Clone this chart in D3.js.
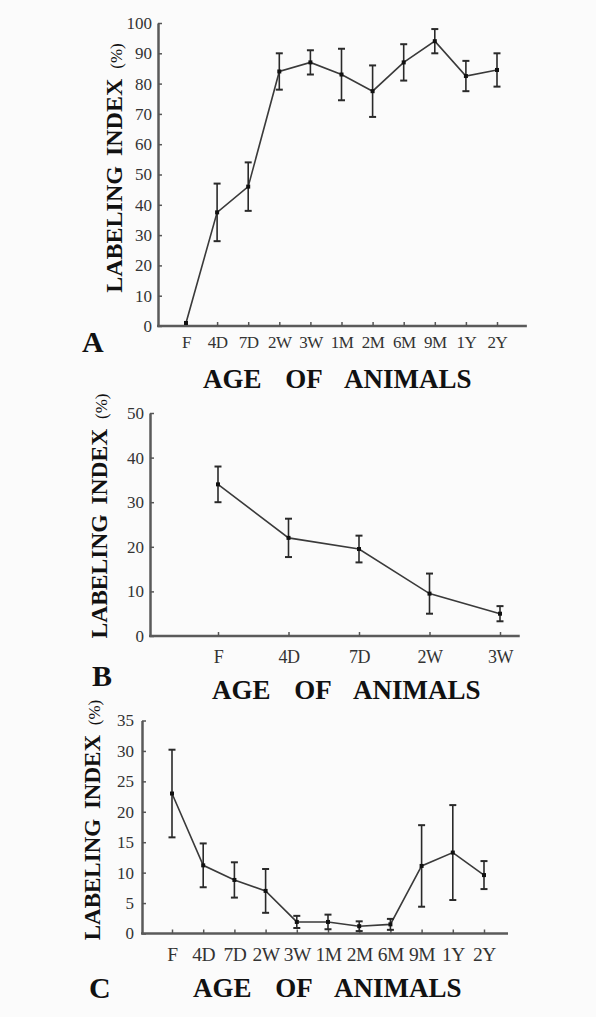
<!DOCTYPE html>
<html>
<head>
<meta charset="utf-8">
<script src="https://cdn.jsdelivr.net/npm/d3@7/dist/d3.min.js"></script>
<style>
  body { margin: 0; background: #fbfbfb; }
  svg { display: block; }
</style>
</head>
<body>
<script>
'use strict';

// age groups along the x axis
const agesLong = ["F", "4D", "7D", "2W", "3W", "1M", "2M", "6M", "9M", "1Y", "2Y"];
const agesShort = ["F", "4D", "7D", "2W", "3W"];

// panel A: labeling index (%) means and error half-widths
const meanA = [1, 37.5, 46, 84, 87, 83, 77.5, 87, 94, 82.5, 84.5];
const errA = [0.5, 9.5, 8, 6, 4, 8.5, 8.5, 6, 4, 5, 5.5];

// panel B
const meanB = [34, 22, 19.5, 9.5, 5];
const errB = [4, 4.3, 3, 4.5, 1.7];

// panel C
const meanC = [23, 11.2, 8.8, 7, 1.9, 1.9, 1.2, 1.5, 11.1, 13.3, 9.6];
const errC = [7.2, 3.6, 2.9, 3.6, 1, 1.2, 0.8, 0.9, 6.7, 7.8, 2.3];

// y tick values for each panel
const ticksA = [0, 10, 20, 30, 40, 50, 60, 70, 80, 90, 100];
const ticksB = [0, 10, 20, 30, 40, 50];
const ticksC = [0, 5, 10, 15, 20, 25, 30, 35];

(function() {

  let svgContainer = ""; // keep SVG reference in global scope
  const serif = "'Liberation Serif', 'Times New Roman', serif";

  window.onload = function() {
    svgContainer = d3.select('body')
      .append('svg')
      .attr('width', 596)
      .attr('height', 1017);

    // layout of each panel (pixels)
    drawPanel({
      cats: agesLong, mean: meanA, err: errA, ticks: ticksA, yMax: 100,
      axisX: 158, yTop: 23, yBottom: 326, first: 186, last: 497, padL: 0.93, padR: 0.96,
      yTickPad: 6, xTickPad: 10, xTickFont: 17,
      letter: "A", letterX: 82, letterY: 352,
      titleX: 203, titleY: 388,
      yTitleX: 122, yTitleY: 168, yTitleFont: 24
    });

    drawPanel({
      cats: agesShort, mean: meanB, err: errB, ticks: ticksB, yMax: 50,
      axisX: 150, yTop: 413, yBottom: 636, first: 218, last: 500, padL: 0.96, padR: 0.28,
      yTickPad: 6, xTickPad: 14, xTickFont: 18,
      letter: "B", letterX: 92, letterY: 686,
      titleX: 212, titleY: 699,
      yTitleX: 107, yTitleY: 516, yTitleFont: 23.5
    });

    drawPanel({
      cats: agesLong, mean: meanC, err: errC, ticks: ticksC, yMax: 35,
      axisX: 142, yTop: 720.5, yBottom: 933.5, first: 172, last: 484, padL: 0.96, padR: 0.77,
      yTickPad: 8, xTickPad: 14, xTickFont: 19.5,
      letter: "C", letterX: 89, letterY: 998,
      titleX: 193, titleY: 997,
      yTitleX: 100, yTitleY: 820, yTitleFont: 23
    });
  }

  // draw one panel: axes, error bars, line, labels
  function drawPanel(p) {
    let xScale = d3.scalePoint()
      .domain(p.cats)
      .range([p.first, p.last]);

    let yScale = d3.scaleLinear()
      .domain([0, p.yMax])
      .range([p.yBottom, p.yTop]);

    let rows = p.cats.map((c, i) => ({ cat: c, mean: p.mean[i], err: p.err[i] }));

    // y axis with small inward ticks
    let yAxis = d3.axisLeft(yScale)
      .tickValues(p.ticks)
      .tickSizeInner(-4)
      .tickSizeOuter(0)
      .tickPadding(p.yTickPad);
    let gy = svgContainer.append('g')
      .attr('transform', 'translate(' + p.axisX + ', 0)')
      .call(yAxis);
    styleAxis(gy, 17);

    // x axis, domain line stretched past the first and last age
    let step = (p.last - p.first) / (p.cats.length - 1);
    let xAxis = d3.axisBottom(xScale)
      .tickSizeInner(-4)
      .tickSizeOuter(0)
      .tickPadding(p.xTickPad);
    let gx = svgContainer.append('g')
      .attr('transform', 'translate(0, ' + p.yBottom + ')')
      .call(xAxis);
    gx.select('.domain')
      .attr('d', 'M' + (p.axisX - 1) + ',0H' + (p.last + step * p.padR));
    styleAxis(gx, p.xTickFont);
    gx.selectAll('text').attr('letter-spacing', '-0.5px');

    // connecting line
    let line = d3.line()
      .x((d) => xScale(d.cat))
      .y((d) => yScale(d.mean));
    svgContainer.append('path')
      .datum(rows)
      .attr('d', line)
      .attr('fill', 'none')
      .attr('stroke', '#3a3a3a')
      .attr('stroke-width', 1.6);

    // error bars
    let bars = svgContainer.append('g')
      .attr('stroke', '#2a2a2a')
      .attr('stroke-width', 1.6);
    bars.selectAll('.bar')
      .data(rows.filter((d) => d.err > 0.6))
      .enter()
      .append('line')
        .attr('x1', (d) => xScale(d.cat))
        .attr('x2', (d) => xScale(d.cat))
        .attr('y1', (d) => yScale(d.mean - d.err))
        .attr('y2', (d) => yScale(d.mean + d.err));
    [1, -1].forEach((s) => {
      bars.selectAll('.cap' + s)
        .data(rows.filter((d) => d.err > 0.6))
        .enter()
        .append('line')
          .attr('x1', (d) => xScale(d.cat) - 3.5)
          .attr('x2', (d) => xScale(d.cat) + 3.5)
          .attr('y1', (d) => yScale(d.mean + s * d.err))
          .attr('y2', (d) => yScale(d.mean + s * d.err))
          .attr('stroke-width', 2);
    });

    // mean markers
    svgContainer.selectAll('.dot' + p.letter)
      .data(rows)
      .enter()
      .append('rect')
        .attr('x', (d) => xScale(d.cat) - 2)
        .attr('y', (d) => yScale(d.mean) - 2)
        .attr('width', 4)
        .attr('height', 4)
        .attr('fill', '#111');

    // y axis title
    let yt = svgContainer.append('text')
      .attr('transform', 'translate(' + p.yTitleX + ', ' + p.yTitleY + ')rotate(-90)')
      .attr('text-anchor', 'middle')
      .style('font-family', serif)
      .style('font-weight', 'bold')
      .style('font-size', p.yTitleFont + 'px')
      .style('word-spacing', '4px')
      .attr('fill', '#111');
    yt.append('tspan').text('LABELING INDEX ');
    yt.append('tspan').style('font-size', '17px').style('font-weight', 'normal').text('(%)');

    // x axis title
    svgContainer.append('text')
      .attr('x', p.titleX)
      .attr('y', p.titleY)
      .style('font-family', serif)
      .style('font-weight', 'bold')
      .style('font-size', '27px')
      .style('word-spacing', '17px')
      .attr('fill', '#111')
      .text('AGE OF ANIMALS');

    // panel letter
    svgContainer.append('text')
      .attr('x', p.letterX)
      .attr('y', p.letterY)
      .style('font-family', serif)
      .style('font-weight', 'bold')
      .style('font-size', '30px')
      .attr('fill', '#111')
      .text(p.letter);
  }

  // greyish scanned look for axes
  function styleAxis(g, fontSize) {
    g.select('.domain')
      .attr('stroke', '#5a5a5a')
      .attr('stroke-width', 2.5);
    g.selectAll('.tick line')
      .attr('stroke', '#555')
      .attr('stroke-width', 1.5);
    g.selectAll('text')
      .attr('fill', '#333')
      .style('font-family', serif)
      .style('font-size', fontSize + 'px');
  }

})();
</script>
</body>
</html>
